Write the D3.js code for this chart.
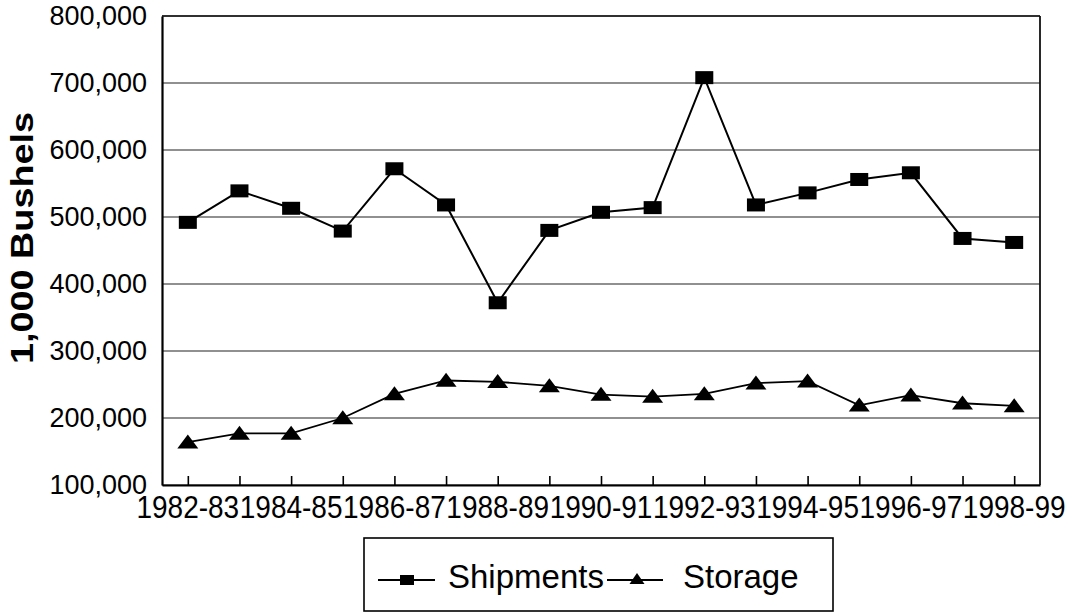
<!DOCTYPE html>
<html>
<head>
<meta charset="utf-8">
<script src="https://cdn.jsdelivr.net/npm/d3@7"></script>
<style>
  html, body { margin: 0; padding: 0; background: #fff; }
  svg { display: block; font-family: "Liberation Sans", Arial, sans-serif; }
</style>
</head>
<body>
<svg id="chart" width="1076" height="613"></svg>
<script>
const categories = ["1982-83","1983-84","1984-85","1985-86","1986-87","1987-88","1988-89","1989-90","1990-91","1991-92","1992-93","1993-94","1994-95","1995-96","1996-97","1997-98","1998-99"];
const shipments = [492000, 539000, 513000, 479000, 572000, 518000, 372000, 480000, 507000, 514000, 708000, 518000, 536000, 556000, 566000, 468000, 462000];
const storage = [164000, 177000, 177000, 200000, 236000, 256000, 254000, 248000, 235000, 232000, 236000, 252000, 255000, 219000, 234000, 222000, 218000];
const yTicks = [100000, 200000, 300000, 400000, 500000, 600000, 700000, 800000];
const xLabels = ["1982-83","1984-85","1986-87","1988-89","1990-91","1992-93","1994-95","1996-97","1998-99"];
const seriesNames = ["Shipments", "Storage"];
const yTitle = "1,000 Bushels";

const svg = d3.select("#chart");
const L = 162, R = 1040, T = 16, B = 485;

const x = d3.scalePoint().domain(categories).range([L, R]).padding(0.5);
const y = d3.scaleLinear().domain([100000, 800000]).range([B, T]);
const fmt = d3.format(",");

// gridlines
svg.append("g").selectAll("line").data(yTicks).join("line")
  .attr("x1", L).attr("x2", R)
  .attr("y1", d => y(d)).attr("y2", d => y(d))
  .attr("stroke", "#222").attr("stroke-width", 1.2);

// plot frame
svg.append("line").attr("x1", R).attr("x2", R).attr("y1", T).attr("y2", B).attr("stroke", "#111").attr("stroke-width", 1.8);
svg.append("line").attr("x1", L).attr("x2", R).attr("y1", T).attr("y2", T).attr("stroke", "#111").attr("stroke-width", 1.6);

// y axis
const yAxis = svg.append("g").attr("transform", `translate(${L},0)`)
  .call(d3.axisLeft(y).tickValues(yTicks).tickFormat(fmt).tickSize(0).tickPadding(15));
yAxis.select(".domain").attr("stroke", "#000").attr("stroke-width", 2.2);
yAxis.selectAll("text").attr("font-size", 27).attr("fill", "#000")
  .attr("font-family", "'Liberation Sans', Arial, sans-serif")
  .attr("transform", "scale(1,1.04)");

// x axis (inward ticks)
const xAxis = svg.append("g").attr("transform", `translate(0,${B})`)
  .call(d3.axisBottom(x).tickSizeInner(-9).tickSizeOuter(0).tickFormat(""));
xAxis.select(".domain").attr("stroke", "#000").attr("stroke-width", 2.2);
xAxis.selectAll(".tick line").attr("stroke", "#000").attr("stroke-width", 1.6);

// x labels
svg.append("g").selectAll("text").data(xLabels).join("text")
  .attr("transform", d => `translate(${x(d)},518) scale(1,1.12)`)
  .attr("text-anchor", "middle")
  .attr("font-size", 28).attr("fill", "#000")
  .text(d => d);

// y title
svg.append("text")
  .attr("transform", "translate(33,238) rotate(-90) scale(1.22,1)")
  .attr("text-anchor", "middle")
  .attr("font-size", 31).attr("font-weight", "bold").attr("fill", "#000")
  .text(yTitle);

// lines
const line = d3.line().x((d, i) => x(categories[i])).y(d => y(d));
svg.append("path").datum(shipments).attr("d", line).attr("fill", "none").attr("stroke", "#000").attr("stroke-width", 2);
svg.append("path").datum(storage).attr("d", line).attr("fill", "none").attr("stroke", "#000").attr("stroke-width", 1.8);

// markers
const sqW = 18, sqH = 13;
svg.append("g").selectAll("rect").data(shipments).join("rect")
  .attr("x", (d, i) => x(categories[i]) - sqW / 2)
  .attr("y", d => y(d) - sqH / 2)
  .attr("width", sqW).attr("height", sqH).attr("fill", "#000");

const triPath = (cx, cy, w, h) => `M${cx - w / 2},${cy + h * 0.45}L${cx + w / 2},${cy + h * 0.45}L${cx},${cy - h * 0.55}Z`;
svg.append("g").selectAll("path").data(storage).join("path")
  .attr("d", (d, i) => triPath(x(categories[i]), y(d), 21, 14))
  .attr("fill", "#000");

// legend
const lg = svg.append("g");
lg.append("rect").attr("x", 364).attr("y", 538).attr("width", 469).attr("height", 73)
  .attr("fill", "none").attr("stroke", "#000").attr("stroke-width", 1.6);
const ly = 580;
lg.append("line").attr("x1", 378).attr("x2", 435).attr("y1", ly).attr("y2", ly).attr("stroke", "#000").attr("stroke-width", 1.8);
lg.append("rect").attr("x", 407 - 7).attr("y", ly - 5).attr("width", 14).attr("height", 10).attr("fill", "#000");
lg.append("text").attr("x", 448).attr("y", 588).attr("font-size", 33).attr("fill", "#000").text(seriesNames[0]);
lg.append("line").attr("x1", 607).attr("x2", 663).attr("y1", ly).attr("y2", ly).attr("stroke", "#000").attr("stroke-width", 1.8);
lg.append("path").attr("d", triPath(637, ly - 1, 15, 11)).attr("fill", "#000");
lg.append("text").attr("x", 683).attr("y", 588).attr("font-size", 33).attr("fill", "#000").text(seriesNames[1]);
</script>
</body>
</html>
